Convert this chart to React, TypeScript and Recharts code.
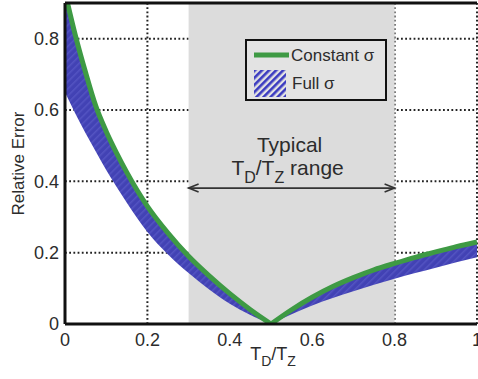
import React from "react";
import {
  ComposedChart,
  Line,
  Area,
  XAxis,
  YAxis,
  CartesianGrid,
  ReferenceArea,
  ReferenceLine,
  Label,
} from "recharts";

// T_D/T_Z samples
const ratio = [
  0, 0.025, 0.05, 0.075, 0.1, 0.125, 0.15, 0.175, 0.2, 0.25, 0.3, 0.35, 0.4,
  0.45, 0.5, 0.55, 0.6, 0.65, 0.7, 0.75, 0.8, 0.85, 0.9, 0.95, 1,
];
// relative error, constant sigma
const constantSigma = [
  0.93, 0.81, 0.705, 0.61, 0.54, 0.48, 0.425, 0.375, 0.33, 0.255, 0.19, 0.135,
  0.085, 0.04, 0, 0.04, 0.075, 0.105, 0.13, 0.152, 0.17, 0.187, 0.202, 0.217,
  0.23,
];
// full sigma band: lower edge (upper edge runs along the constant sigma curve)
const fullSigmaLow = [
  0.65, 0.59, 0.535, 0.483, 0.432, 0.385, 0.34, 0.297, 0.258, 0.195, 0.143,
  0.097, 0.057, 0.025, 0, 0.027, 0.052, 0.073, 0.092, 0.11, 0.127, 0.143,
  0.158, 0.173, 0.187,
];
const fullSigmaHigh = constantSigma;

// the error curves have a cusp at the optimum ratio
const cusp = 0.5;

const xTicks = [0, 0.2, 0.4, 0.6, 0.8, 1];
const yTicks = [0, 0.2, 0.4, 0.6, 0.8];
const typicalRange = [0.3, 0.8];
const arrowLevel = 0.381;

// split each curve at the cusp so the smooth interpolation keeps the sharp V
const data = ratio.map((x, i) => {
  const band = [fullSigmaLow[i], fullSigmaHigh[i]];
  return {
    x,
    constLeft: x <= cusp ? constantSigma[i] : null,
    constRight: x >= cusp ? constantSigma[i] : null,
    fullLeft: x <= cusp ? band : null,
    fullRight: x >= cusp ? band : null,
  };
});

const FONT = "'Liberation Sans', Arial, Helvetica, sans-serif";
const TEXT = "#2c2c2c";
const GREEN = "#3e9a44";

const XLabel = (props: any) => {
  const { viewBox } = props;
  const cx = viewBox.x + viewBox.width / 2 + 2;
  return (
    <text
      x={cx}
      y={360}
      textAnchor="middle"
      fontFamily={FONT}
      fontSize={18}
      fill={TEXT}
    >
      T<tspan fontSize={14} dy={6}>D</tspan>
      <tspan dy={-6}>/T</tspan>
      <tspan fontSize={14} dy={6}>Z</tspan>
    </text>
  );
};

const YLabel = (props: any) => {
  const { viewBox } = props;
  const cy = viewBox.y + viewBox.height / 2;
  return (
    <text
      x={18}
      y={cy}
      transform={`rotate(-90, 18, ${cy})`}
      textAnchor="middle"
      dominantBaseline="central"
      fontFamily={FONT}
      fontSize={17}
      fill={TEXT}
    >
      Relative Error
    </text>
  );
};

// double-headed arrow with the "Typical T_D/T_Z range" caption above it
const RangeArrow = (props: any) => {
  const { x1, y1, x2 } = props;
  const y = y1;
  const mid = (x1 + x2) / 2 - 2;
  const ah = 10;
  const aw = 4;
  return (
    <g>
      <line x1={x1} y1={y} x2={x2} y2={y} stroke="#333" strokeWidth={1.6} />
      <polyline
        points={`${x1 + ah},${y - aw} ${x1},${y} ${x1 + ah},${y + aw}`}
        fill="none"
        stroke="#333"
        strokeWidth={1.6}
      />
      <polyline
        points={`${x2 - ah},${y - aw} ${x2},${y} ${x2 - ah},${y + aw}`}
        fill="none"
        stroke="#333"
        strokeWidth={1.6}
      />
      <text
        x={mid}
        y={y - 36}
        textAnchor="middle"
        fontFamily={FONT}
        fontSize={21}
        fill={TEXT}
      >
        Typical
      </text>
      <text
        x={mid - 2}
        y={y - 13}
        textAnchor="middle"
        fontFamily={FONT}
        fontSize={21}
        fill={TEXT}
      >
        T<tspan fontSize={16} dy={8}>D</tspan>
        <tspan dy={-8}>/T</tspan>
        <tspan fontSize={16} dy={8}>Z</tspan>
        <tspan dy={-8}> range</tspan>
      </text>
    </g>
  );
};

const LegendBox = () => (
  <div
    style={{
      position: "absolute",
      left: 245,
      top: 39,
      width: 138,
      height: 58,
      border: "2px solid #111",
      background: "#e3e3e3",
    }}
  >
    <svg width={138} height={58}>
      <defs>
        <pattern
          id="legendHatch"
          width={5}
          height={5}
          patternUnits="userSpaceOnUse"
          patternTransform="rotate(45)"
        >
          <rect width={2.6} height={5} fill="#3a3ac0" />
        </pattern>
      </defs>
      <line x1={7} y1={14} x2={42} y2={14} stroke={GREEN} strokeWidth={5} />
      <text x={44} y={20} fontFamily={FONT} fontSize={17} fill={TEXT}>
        Constant σ
      </text>
      <rect x={7} y={29} width={32} height={27} fill="url(#legendHatch)" />
      <text x={45} y={48} fontFamily={FONT} fontSize={17} fill={TEXT}>
        Full σ
      </text>
    </svg>
  </div>
);

export default function App() {
  return (
    <div
      style={{
        position: "absolute",
        left: 0,
        top: 0,
        width: 478,
        height: 379,
        background: "#fff",
      }}
    >
      <ComposedChart
        width={478}
        height={379}
        data={data}
        margin={{ top: 3, right: 1, left: 0, bottom: 0 }}
      >
        <defs>
          <pattern
            id="bandHatch"
            width={5}
            height={5}
            patternUnits="userSpaceOnUse"
            patternTransform="rotate(45)"
          >
            <rect width={5} height={5} fill="#4242b4" />
            <rect width={1.5} height={5} fill="#5454c2" />
          </pattern>
        </defs>
        <ReferenceArea
          x1={typicalRange[0]}
          x2={typicalRange[1]}
          fill="#dcdcdc"
          fillOpacity={1}
          stroke="none"
        />
        <Area
          dataKey="fullLeft"
          type="monotone"
          fill="url(#bandHatch)"
          fillOpacity={1}
          stroke="none"
          isAnimationActive={false}
        />
        <Area
          dataKey="fullRight"
          type="monotone"
          fill="url(#bandHatch)"
          fillOpacity={1}
          stroke="none"
          isAnimationActive={false}
        />
        <CartesianGrid
          stroke="#222"
          strokeWidth={2}
          strokeDasharray="1.8 2.4"
        />
        <Line
          dataKey="constLeft"
          type="monotone"
          stroke={GREEN}
          strokeWidth={5}
          dot={false}
          isAnimationActive={false}
        />
        <Line
          dataKey="constRight"
          type="monotone"
          stroke={GREEN}
          strokeWidth={5}
          dot={false}
          isAnimationActive={false}
        />
        <ReferenceLine
          segment={[
            { x: typicalRange[0], y: arrowLevel },
            { x: typicalRange[1], y: arrowLevel },
          ]}
          shape={RangeArrow}
        />
        <ReferenceLine y={0.9} stroke="#111" strokeWidth={3} />
        <XAxis
          type="number"
          dataKey="x"
          domain={[0, 1]}
          ticks={xTicks}
          height={55}
          tickSize={0}
          tickMargin={9}
          axisLine={{ stroke: "#111", strokeWidth: 3 }}
          tick={{ fill: TEXT, fontSize: 18, fontFamily: FONT }}
          interval={0}
        >
          <Label content={XLabel} />
        </XAxis>
        <YAxis
          type="number"
          domain={[0, 0.9]}
          ticks={yTicks}
          width={65}
          tickSize={0}
          tickMargin={6}
          axisLine={{ stroke: "#111", strokeWidth: 3 }}
          tick={{ fill: TEXT, fontSize: 18, fontFamily: FONT }}
          interval={0}
          allowDataOverflow
        >
          <Label content={YLabel} />
        </YAxis>
      </ComposedChart>
      <LegendBox />
    </div>
  );
}
